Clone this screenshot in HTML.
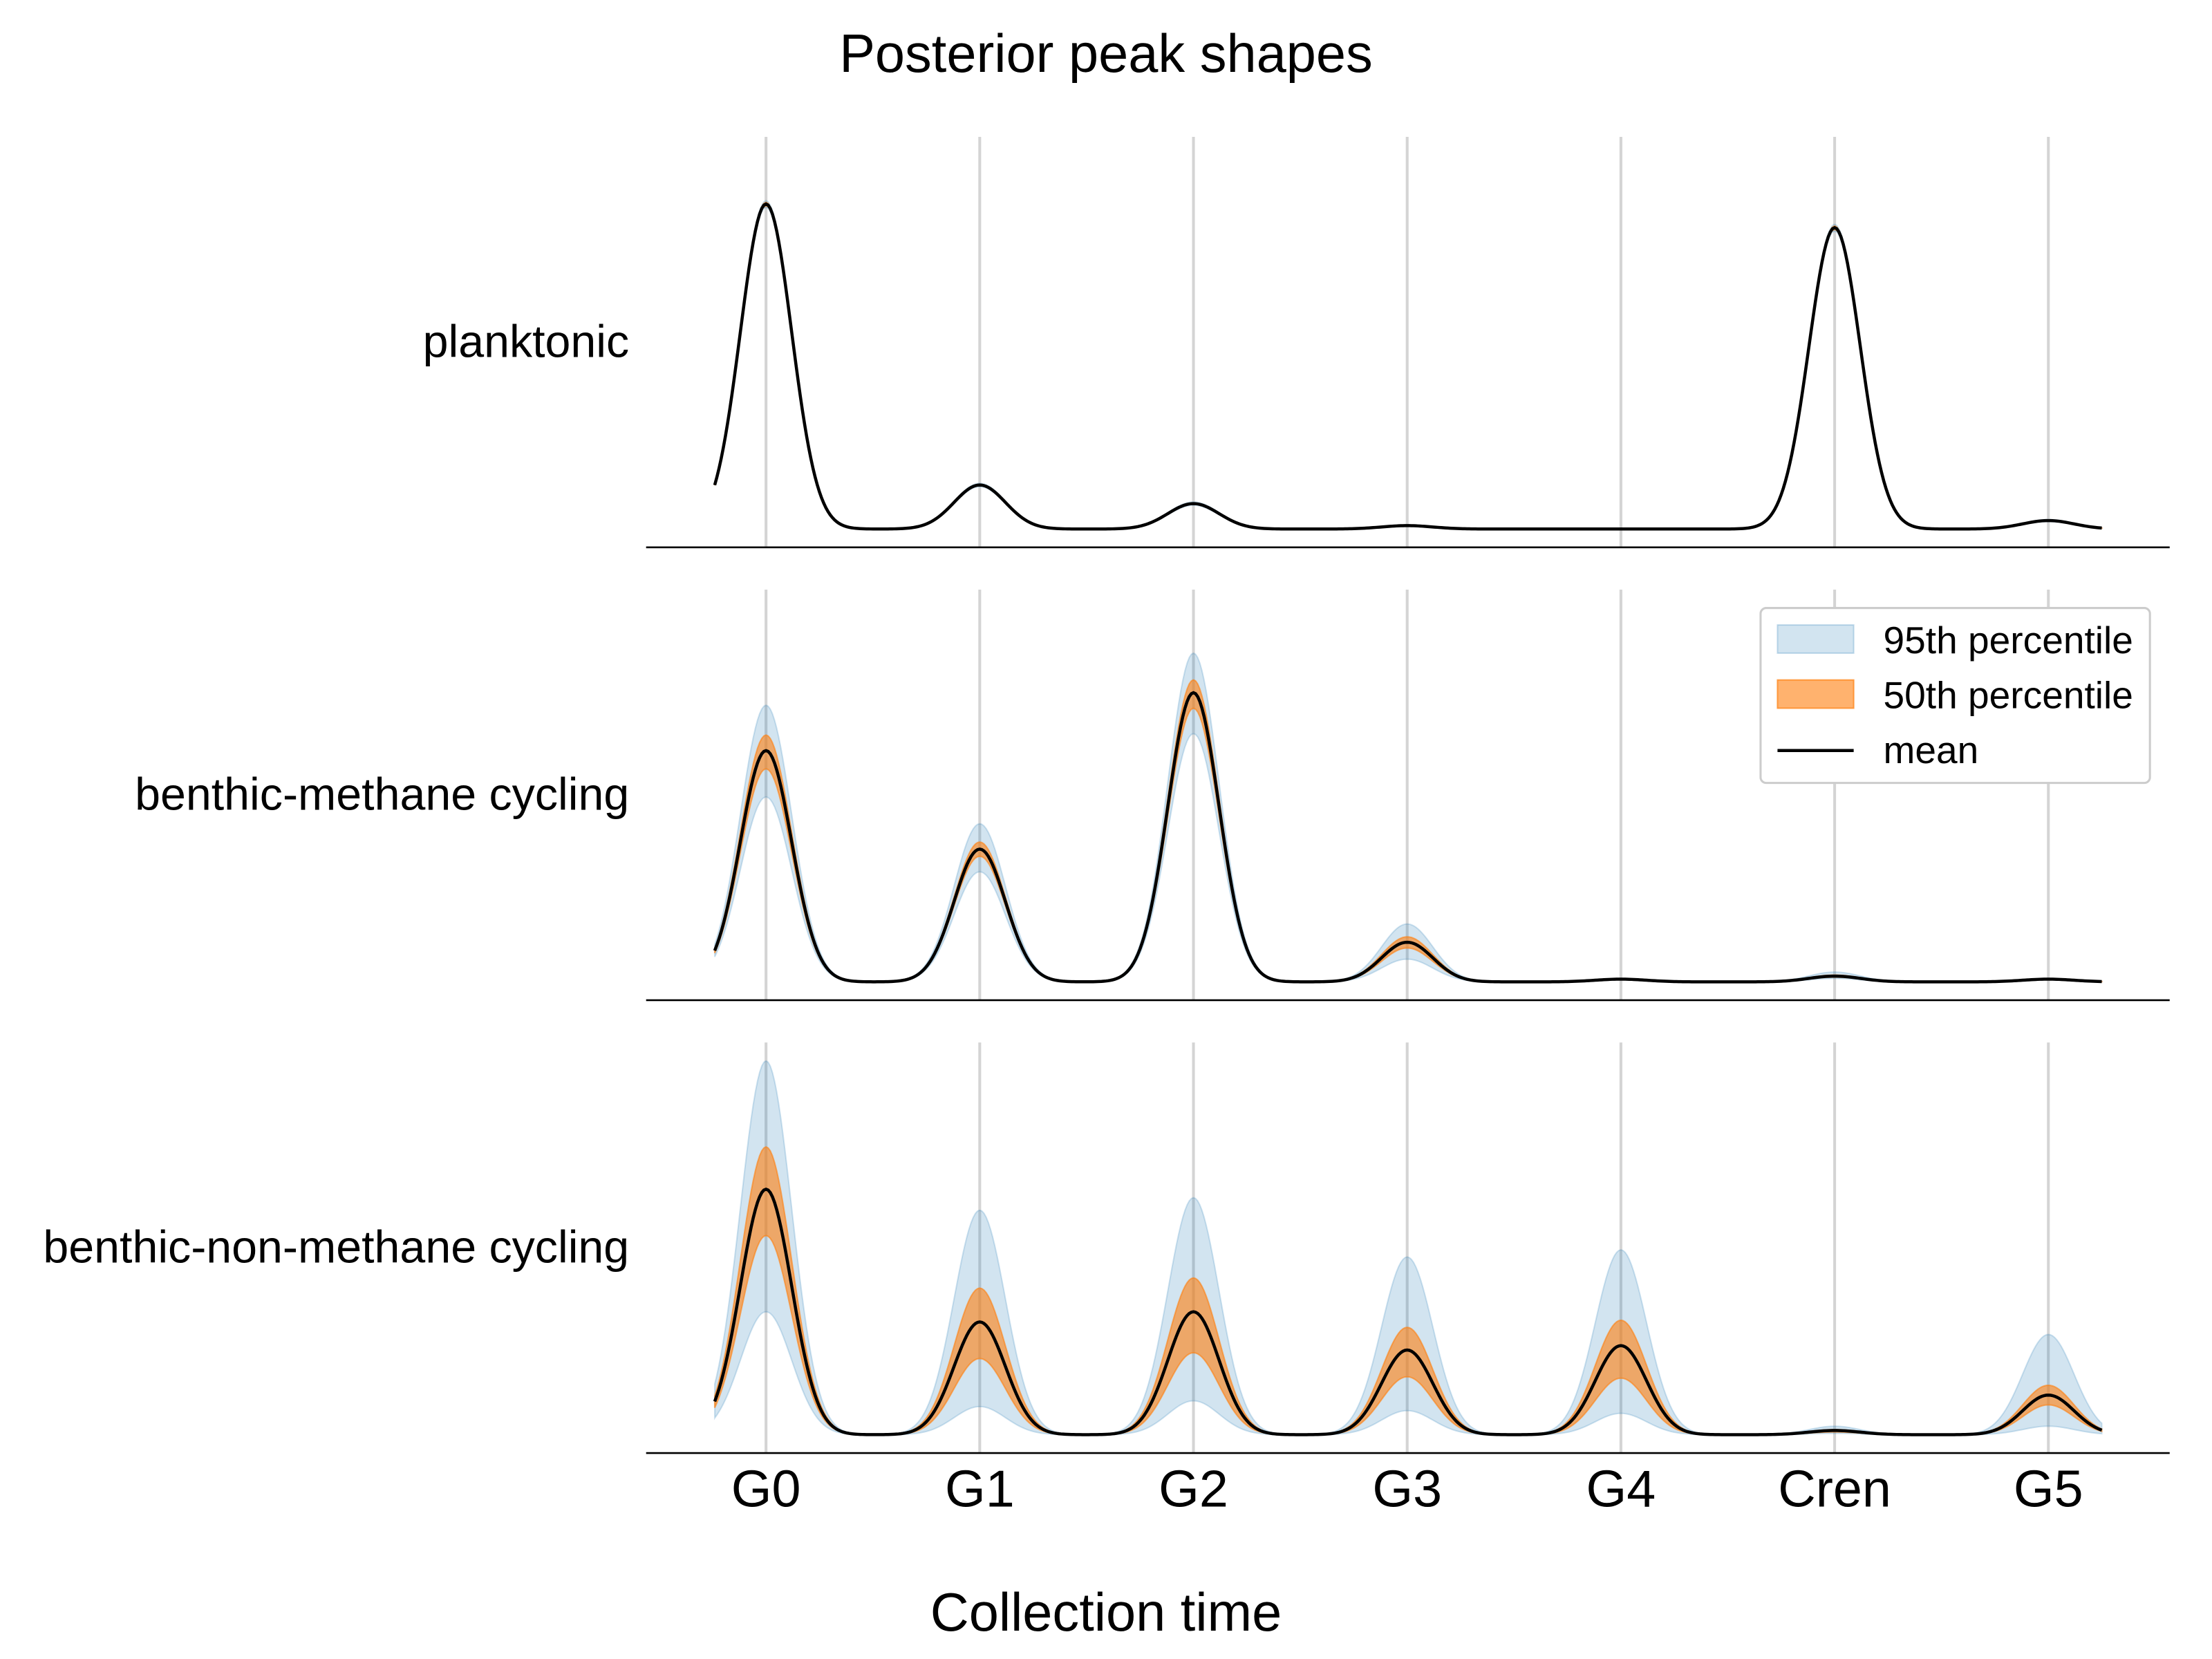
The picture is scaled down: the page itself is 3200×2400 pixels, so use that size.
<!DOCTYPE html>
<html>
<head>
<meta charset="utf-8">
<style>
  html,body{margin:0;padding:0;background:#fff;}
  svg{display:block;}
  text{font-family:"Liberation Sans",Arial,sans-serif;fill:#000;}
</style>
</head>
<body>
<svg id="chart" width="3200" height="2400" viewBox="0 0 1568 1176" xmlns="http://www.w3.org/2000/svg">
  <text x="784" y="51" font-size="38" text-anchor="middle">Posterior peak shapes</text>
  <g id="panels"></g>
  <text x="784" y="1156" font-size="38" text-anchor="middle">Collection time</text>
  <g>
    <rect x="1248" y="431" width="276" height="124" rx="4" fill="#fff" stroke="#ccc" stroke-width="1.5"/>
    <rect x="1260" y="443" width="54" height="20" fill="rgba(31,119,180,0.2)" stroke="rgba(31,119,180,0.25)"/>
    <text x="1335" y="463" font-size="27">95th percentile</text>
    <rect x="1260" y="482" width="54" height="20" fill="rgba(255,127,14,0.6)" stroke="rgba(255,127,14,0.7)"/>
    <text x="1335" y="502" font-size="27">50th percentile</text>
    <line x1="1260" y1="532" x2="1314" y2="532" stroke="#000" stroke-width="2.2"/>
    <text x="1335" y="541" font-size="27">mean</text>
  </g>
</svg>
<script>
const categories = ["G0","G1","G2","G3","G4","Cren","G5"];
const panelNames = ["planktonic","benthic-methane cycling","benthic-non-methane cycling"];
const meanP1  = [0.96,0.13,0.075,0.01,0,0.89,0.025];
const lo95P1  = [0.95,0.125,0.07,0.008,0,0.88,0.022];
const hi95P1  = [0.97,0.135,0.08,0.012,0,0.90,0.028];
const lo50P1  = [0.955,0.128,0.073,0.009,0,0.885,0.024];
const hi50P1  = [0.965,0.132,0.077,0.011,0,0.895,0.026];

const meanP2  = [0.683,0.392,0.854,0.117,0.008,0.017,0.008];
const lo95P2  = [0.546,0.325,0.733,0.067,0.006,0.01,0.006];
const hi95P2  = [0.817,0.467,0.971,0.171,0.01,0.029,0.01];
const lo50P2  = [0.629,0.371,0.808,0.1,0.007,0.014,0.007];
const hi50P2  = [0.729,0.413,0.892,0.133,0.009,0.02,0.009];

const meanP3  = [0.725,0.333,0.363,0.25,0.263,0.0125,0.117];
const lo95P3  = [0.363,0.083,0.1,0.071,0.063,0.004,0.025];
const hi95P3  = [1.104,0.663,0.7,0.525,0.546,0.025,0.296];
const lo50P3  = [0.588,0.225,0.242,0.171,0.167,0.008,0.088];
const hi50P3  = [0.85,0.433,0.463,0.317,0.338,0.015,0.146];

const panelData = [
  {mean:meanP1,lo95:lo95P1,hi95:hi95P1,lo50:lo50P1,hi50:hi50P1},
  {mean:meanP2,lo95:lo95P2,hi95:hi95P2,lo50:lo50P2,hi50:hi50P2},
  {mean:meanP3,lo95:lo95P3,hi95:hi95P3,lo50:lo50P3,hi50:hi50P3}
];

const NS="http://www.w3.org/2000/svg";
const SIGMA=0.12, X0=-0.24, X1=6.25;
function xScale(v){ return 543 + v*151.5; }
const baselines=[388,709,1030];
function yScale(panel,v){ return baselines[panel]-13 - v*240; }
function curve(heights,x){ let s=0; heights.forEach((h,i)=>{ const d=x-i; s+=h*Math.exp(-d*d/(2*SIGMA*SIGMA)); }); return s; }
function xs(){ const a=[]; for(let x=X0;x<=X1+1e-9;x+=0.01) a.push(x); return a; }
function lineD(p,h){ return xs().map((x,i)=>(i?"L":"M")+xScale(x).toFixed(2)+","+yScale(p,curve(h,x)).toFixed(2)).join(""); }
function bandD(p,lo,hi){
  const X=xs();
  let d=X.map((x,i)=>(i?"L":"M")+xScale(x).toFixed(2)+","+yScale(p,curve(hi,x)).toFixed(2)).join("");
  d+=X.slice().reverse().map(x=>"L"+xScale(x).toFixed(2)+","+yScale(p,curve(lo,x)).toFixed(2)).join("");
  return d+"Z";
}
const root=document.getElementById("panels");
function mk(tag,attrs){ const e=document.createElementNS(NS,tag); for(const k in attrs) e.setAttribute(k,attrs[k]); return e; }

panelData.forEach((pd,p)=>{
  const g=mk("g",{});
  
  
  root.appendChild(g);
  const base=baselines[p];
  categories.forEach((c,i)=>{
    const l=mk("line",{x1:xScale(i),x2:xScale(i),y1:base-291,y2:base,stroke:"#d4d4d4","stroke-width":2});
    
    
    g.appendChild(l);
  });
  const b95=mk("path",{d:bandD(p,pd.lo95,pd.hi95),fill:"rgba(31,119,180,0.2)",stroke:"rgba(31,119,180,0.2)","stroke-width":1});
  
  
  g.appendChild(b95);
  const b50=mk("path",{d:bandD(p,pd.lo50,pd.hi50),fill:"rgba(255,127,14,0.6)",stroke:"rgba(255,127,14,0.6)","stroke-width":1});
  
  
  g.appendChild(b50);
  const m=mk("path",{d:lineD(p,pd.mean),fill:"none",stroke:"#000","stroke-width":2.2});
  
  
  g.appendChild(m);
  const ax=mk("line",{x1:458,x2:1538,y1:base,y2:base,stroke:"#000","stroke-width":1.3});
  
  
  g.appendChild(ax);
  const t=mk("text",{x:446,y:base-146+11,"font-size":32.5,"text-anchor":"end"});
  t.textContent=panelNames[p];
  
  
  g.appendChild(t);
});
categories.forEach((c,i)=>{
  const t=mk("text",{x:xScale(i),y:1068,"font-size":37,"text-anchor":"middle"});
  t.textContent=c;
  
  
  root.appendChild(t);
});
</script>
</body>
</html>
